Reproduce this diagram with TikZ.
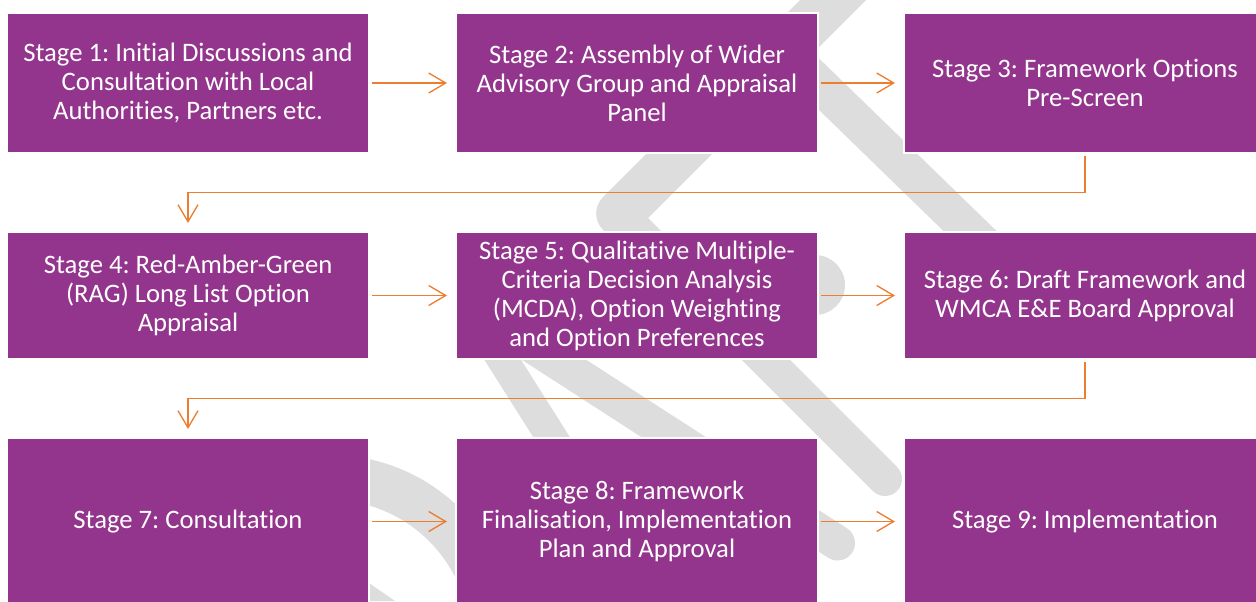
\documentclass[tikz,border=0pt]{standalone}
\usepackage{fontspec}
\setmainfont{Carlito}[Ligatures=NoCommon]
\usetikzlibrary{arrows.meta}
\definecolor{stagepurple}{RGB}{147,53,140}
\definecolor{flow}{RGB}{237,125,49}
\definecolor{wm}{RGB}{221,221,221}
\frenchspacing
\begin{document}
\begin{tikzpicture}[x=0.75pt,y=-0.75pt,
  stagebox/.style={rectangle, fill=stagepurple, draw=white, line width=1pt, text=white,
    font=\fontsize{20}{21.75}\selectfont\frenchspacing, align=center, inner sep=0pt, outer sep=0pt,
    minimum width=271.5pt},
  rowa/.style={minimum height=105pt},
  rowb/.style={minimum height=95.25pt},
  rowc/.style={minimum height=125.25pt},
  flowline/.style={draw=flow, line width=1pt, -{Straight Barb[length=12.75pt,width=15pt]},
    shorten <=2.25pt, shorten >=6.75pt},
  wmband/.style={draw=wm, line cap=round, line join=round}
]
\useasboundingbox (0,0) rectangle (1256,601);
\clip (0,0) rectangle (1256,601);
% watermark
\draw[wmband, line width=35pt] (873,-40) -- (619.5,213.5);
\draw[wmband, line width=25.5pt] (619.5,213.5) -- (885,479);
\draw[wmband, line width=27.75pt] (790,56) -- (1041,300);
\draw[wmband, line width=23.25pt] (487,335) -- (604,520);
\draw[wmband, line width=26.25pt] (515.7,335) -- (837.5,543);
\fill[wm] (815,285) circle (22.5pt);
\draw[draw=wm, line width=33.75pt] (330,640) circle (121.875pt);
\fill[wm] (369,583) -- (395,601) -- (369,601) -- cycle;
% stages
\node[stagebox,rowa] (s1) at (188,83) {Stage 1: Initial Discussions and\\Consultation with Local\\Authorities, Partners etc.};
\node[stagebox,rowa] (s2) at (637,83) {Stage 2: Assembly of Wider\\Advisory Group and Appraisal\\Panel};
\node[stagebox,rowa] (s3) at (1085,83) {Stage 3: Framework Options\\Pre-Screen};
\node[stagebox,rowb] (s4) at (188,295.5) {Stage 4: Red-Amber-Green\\(RAG) Long List Option\\Appraisal};
\node[stagebox,rowb] (s5) at (637,295.5) {Stage 5: Qualitative Multiple-\\Criteria Decision Analysis\\(MCDA), Option Weighting\\and Option Preferences};
\node[stagebox,rowb] (s6) at (1085,295.5) {Stage 6: Draft Framework and\\WMCA E\&E Board Approval};
\node[stagebox,rowc] (s7) at (188,521.5) {Stage 7: Consultation};
\node[stagebox,rowc] (s8) at (637,521.5) {Stage 8: Framework\\Finalisation, Implementation\\Plan and Approval};
\node[stagebox,rowc] (s9) at (1085,521.5) {Stage 9: Implementation};
% connectors
\coordinate (c1) at (640,192.5);
\coordinate (c2) at (640,398.5);
\draw[flowline] (s1) -- (s2);
\draw[flowline] (s2) -- (s3);
\draw[flowline] (s3.south) |- (c1) -| (s4.north);
\draw[flowline] (s4) -- (s5);
\draw[flowline] (s5) -- (s6);
\draw[flowline] (s6.south) |- (c2) -| (s7.north);
\draw[flowline] (s7) -- (s8);
\draw[flowline] (s8) -- (s9);
\end{tikzpicture}
\end{document}
